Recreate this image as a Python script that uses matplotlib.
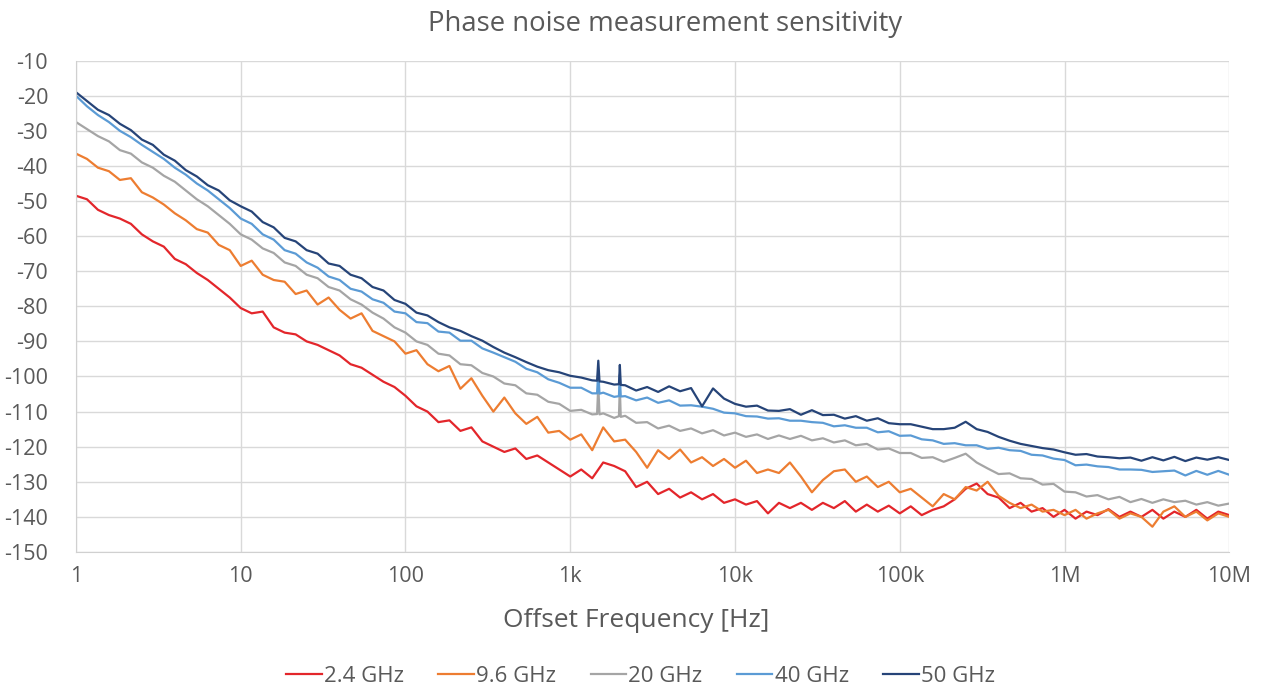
import matplotlib.pyplot as plt
import numpy as np

# offset frequency grid: 15 points per decade, 1 Hz .. 10 MHz
freq = np.logspace(0, 7, 106)

ghz_2p4 = [
    -48.5, -49.5, -52.5, -54.0, -55.0, -56.5, -59.5, -61.5, -63.0, -66.5,
    -68.0, -70.5, -72.5, -75.0, -77.5, -80.5, -82.0, -81.5, -86.0, -87.5,
    -88.0, -90.0, -91.0, -92.5, -94.0, -96.5, -97.5, -99.5, -101.5, -103.0,
    -105.5, -108.5, -110.0, -113.0, -112.5, -115.5, -114.5, -118.5, -120.0, -121.5,
    -120.5, -123.5, -122.5, -124.5, -126.5, -128.5, -126.5, -129.0, -124.5, -125.5,
    -127.0, -131.5, -130.0, -133.5, -132.0, -134.5, -133.0, -135.0, -133.5, -136.0,
    -135.0, -136.5, -135.5, -139.0, -136.0, -137.5, -136.0, -138.0, -136.0, -137.5,
    -135.5, -138.5, -136.5, -138.5, -136.8, -139.0, -137.0, -139.5, -138.0, -137.0,
    -135.0, -132.0, -130.5, -133.5, -134.5, -137.5, -136.0, -138.5, -137.5, -140.0,
    -138.0, -140.5, -138.5, -139.5, -137.8, -140.0, -138.5, -140.0, -138.0, -140.5,
    -138.5, -140.0, -138.0, -140.5, -138.5, -139.5,
]

ghz_9p6 = [
    -36.5, -38.0, -40.5, -41.5, -44.0, -43.5, -47.5, -49.0, -51.0, -53.5,
    -55.5, -58.0, -59.0, -62.5, -64.0, -68.5, -67.0, -71.0, -72.5, -73.0,
    -76.5, -75.5, -79.5, -77.5, -81.0, -83.5, -82.0, -87.0, -88.5, -90.0,
    -93.5, -92.5, -96.5, -98.5, -97.0, -103.5, -100.5, -105.5, -110.0, -106.0,
    -110.5, -113.5, -111.5, -116.0, -115.5, -118.0, -116.5, -121.0, -114.5, -118.5,
    -118.0, -121.5, -126.0, -121.0, -123.5, -120.8, -124.5, -123.0, -125.5, -123.5,
    -126.0, -124.0, -127.5, -126.5, -127.5, -124.5, -128.5, -133.0, -129.5, -127.0,
    -126.5, -130.0, -128.5, -131.5, -130.0, -133.0, -132.0, -134.5, -137.0, -133.5,
    -135.0, -131.5, -132.5, -130.0, -134.0, -136.0, -137.5, -136.5, -138.5, -138.0,
    -139.5, -138.0, -140.5, -139.0, -138.0, -140.5, -139.0, -140.0, -142.8, -138.5,
    -137.0, -140.0, -138.5, -141.0, -139.0, -140.0,
]

ghz_20 = [
    -27.5, -29.5, -31.5, -33.0, -35.5, -36.5, -39.0, -40.5, -42.8, -44.5,
    -47.0, -49.5, -51.5, -54.0, -56.5, -59.5, -61.0, -63.5, -64.8, -67.5,
    -68.5, -71.0, -72.0, -74.5, -75.5, -78.0, -79.5, -81.8, -83.5, -86.0,
    -87.5, -90.0, -91.0, -93.5, -94.0, -96.5, -96.8, -99.0, -100.0, -102.0,
    -102.5, -104.8, -105.2, -107.2, -107.8, -109.8, -109.5, -110.8, -110.5, -111.8,
    -111.2, -113.2, -113.0, -114.8, -114.0, -115.5, -114.8, -116.2, -115.3, -116.8,
    -116.0, -117.2, -116.5, -117.8, -116.8, -117.8, -116.9, -118.2, -117.6, -118.8,
    -118.2, -119.6, -119.2, -120.8, -120.5, -121.8, -121.8, -123.2, -123.0, -124.3,
    -123.2, -122.0, -124.5, -126.2, -127.8, -127.6, -129.0, -129.2, -130.8, -130.6,
    -132.8, -133.0, -134.2, -133.8, -135.0, -134.3, -135.8, -134.9, -136.0, -135.0,
    -135.8, -135.4, -136.5, -135.8, -136.8, -136.2,
]

ghz_40 = [
    -20.0, -23.0, -25.5, -27.5, -30.0, -31.8, -34.0, -36.0, -38.0, -40.5,
    -42.5, -45.0, -47.0, -49.5, -52.0, -55.0, -56.5, -59.5, -61.0, -64.0,
    -65.0, -67.5, -69.0, -71.5, -72.5, -75.0, -75.8, -78.0, -79.0, -81.5,
    -82.0, -84.5, -84.8, -87.2, -87.5, -89.8, -89.8, -92.0, -93.2, -94.5,
    -95.8, -97.8, -98.8, -100.8, -101.8, -103.2, -103.2, -104.8, -104.6, -105.8,
    -105.6, -106.8, -106.0, -107.5, -106.8, -108.3, -108.2, -108.6, -109.2, -110.3,
    -110.5, -111.3, -111.4, -112.0, -111.9, -112.6, -112.6, -113.0, -113.2, -114.2,
    -113.9, -114.6, -114.6, -115.9, -115.6, -116.9, -116.8, -117.9, -118.2, -119.2,
    -119.0, -119.6, -119.6, -120.6, -120.3, -121.0, -121.2, -122.3, -122.5, -123.4,
    -123.8, -125.3, -125.1, -125.6, -125.8, -126.5, -126.5, -126.6, -127.2, -127.0,
    -126.8, -128.2, -126.9, -128.0, -126.9, -128.0,
]

ghz_50 = [
    -19.0, -21.5, -24.0, -25.5, -28.0, -29.8, -32.5, -34.0, -36.8, -38.5,
    -41.2, -43.0, -45.5, -47.0, -49.8, -51.5, -53.0, -56.0, -57.5, -60.5,
    -61.5, -64.0, -65.0, -67.8, -68.5, -71.0, -72.0, -74.5, -75.5, -78.2,
    -79.3, -81.8, -82.6, -84.5, -86.0, -87.0, -88.5, -89.8, -91.6, -93.2,
    -94.5, -95.9, -97.2, -98.2, -98.8, -99.8, -100.3, -101.1, -101.5, -102.3,
    -102.5, -104.0, -103.0, -104.4, -102.8, -104.2, -103.3, -108.5, -103.4, -106.3,
    -107.8, -108.6, -108.3, -109.7, -109.8, -109.3, -110.9, -109.6, -111.0, -110.9,
    -112.0, -111.3, -112.6, -111.9, -113.3, -113.6, -113.6, -114.3, -115.0, -115.0,
    -114.6, -112.9, -115.0, -115.8, -117.2, -118.3, -119.2, -119.8, -120.4, -120.8,
    -121.6, -122.3, -122.1, -122.8, -123.0, -123.3, -123.1, -124.0, -123.0, -123.9,
    -122.9, -124.1, -123.1, -123.7, -123.0, -123.8,
]

# narrow spurs near 1.5 kHz and 2 kHz
spur_freq = [1455, 1480, 1505, 1975, 2000, 2025]
spur_20 = [-110.7, -102.5, -110.8, -111.3, -103.0, -111.5]
spur_40 = [-104.8, -98.5, -104.9, -105.6, -99.5, -105.7]
spur_50 = [-101.2, -95.5, -101.4, -102.2, -96.7, -102.4]

labels = ["2.4 GHz", "9.6 GHz", "20 GHz", "40 GHz", "50 GHz"]
colors = ["#E3262B", "#ED7D31", "#A5A5A5", "#5B9BD5", "#264478"]
series = [ghz_2p4, ghz_9p6, ghz_20, ghz_40, ghz_50]
spurs = [None, None, spur_20, spur_40, spur_50]

xticks = [1, 10, 100, 1e3, 1e4, 1e5, 1e6, 1e7]
xticklabels = ["1", "10", "100", "1k", "10k", "100k", "1M", "10M"]
yticks = list(range(-150, -9, 10))

plt.rcParams["font.family"] = ["Open Sans", "DejaVu Sans"]
text_col = "#595959"

fig = plt.figure(figsize=(12.66, 6.93), dpi=100)
ax = fig.add_axes([0.060, 0.2035, 0.911, 0.709])

for vals, sp, col, lab in zip(series, spurs, colors, labels):
    f = freq
    v = np.asarray(vals)
    if sp is not None:
        f = np.concatenate([freq, spur_freq])
        v = np.concatenate([v, sp])
        order = np.argsort(f)
        f, v = f[order], v[order]
    ax.plot(f, v, color=col, lw=1.6, label=lab)

ax.set_xscale("log")
ax.set_xlim(1, 1e7)
ax.set_ylim(-150, -10)
ax.set_xticks(xticks)
ax.set_xticklabels(xticklabels)
ax.xaxis.set_minor_locator(plt.NullLocator())
ax.set_yticks(yticks)
ax.set_yticklabels([str(t) for t in yticks])
ax.tick_params(axis="both", length=0, labelsize=15.5, colors=text_col)
ax.tick_params(axis="x", pad=10)
ax.tick_params(axis="y", pad=20)
ax.grid(True, color="#D9D9D9", lw=1)
ax.set_axisbelow(True)
for s in ["top", "right"]:
    ax.spines[s].set_visible(False)
for s in ["left", "bottom"]:
    ax.spines[s].set_color("#D0D0D0")

fig.text(0.5025, 0.104, "Offset Frequency [Hz]", fontsize=19, color=text_col,
         ha="center", va="center")
fig.text(0.525, 0.966, "Phase noise measurement sensitivity", fontsize=19.8,
         color=text_col, ha="center", va="center")

fig.legend(loc="center", bbox_to_anchor=(0.506, 0.024), ncol=5, frameon=False,
           fontsize=16, handlelength=1.6, handletextpad=0.1, columnspacing=1.55,
           labelcolor=text_col)

fig.savefig("out.png", dpi=100)
